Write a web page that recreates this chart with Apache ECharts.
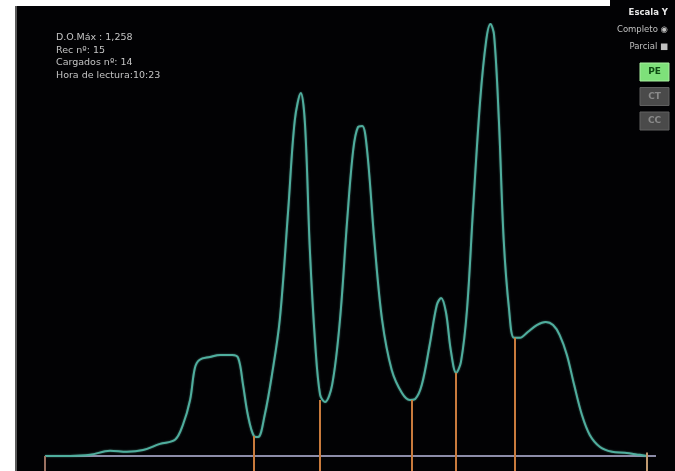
<!DOCTYPE html>
<html>
<head>
<meta charset="utf-8">
<script src="https://cdn.jsdelivr.net/npm/echarts@6/dist/echarts.min.js"></script>
<style>
  html, body { margin: 0; padding: 0; background: #020204; overflow: hidden; }
  #chart { width: 675px; height: 471px; }
</style>
</head>
<body>
<div id="chart"></div>
<script>
// Densitometer scan: position along the run (0–100) and optical density
const positions = [0, 4.2, 7.5, 10.8, 13.6, 16.3, 19.1, 21.6, 22.9, 24.1, 24.9, 25.7, 27.4, 29.1, 31.1, 32.1, 32.9, 33.7, 34.7, 35.4, 36.5, 37.7, 39.0, 40.4, 41.5, 42.5, 43.2, 44.0, 44.9, 45.7, 46.5, 47.7, 49.0, 50.2, 51.2, 52.0, 52.7, 53.5, 54.7, 56.0, 57.6, 59.3, 60.6, 61.5, 62.6, 63.9, 65.1, 65.8, 66.6, 67.4, 68.3, 69.1, 70.1, 71.1, 72.3, 73.3, 74.0, 74.6, 75.4, 76.2, 77.1, 77.9, 78.9, 80.2, 81.7, 83.2, 84.4, 85.5, 86.7, 87.9, 89.2, 90.5, 92.2, 94.2, 96.3, 98.8, 100];
const density = [0, 0, 0.003, 0.015, 0.012, 0.017, 0.035, 0.047, 0.090, 0.163, 0.256, 0.280, 0.288, 0.294, 0.294, 0.285, 0.207, 0.119, 0.058, 0.055, 0.119, 0.236, 0.396, 0.716, 0.978, 1.057, 0.964, 0.600, 0.323, 0.178, 0.157, 0.207, 0.396, 0.687, 0.891, 0.958, 0.961, 0.891, 0.629, 0.396, 0.250, 0.183, 0.163, 0.166, 0.207, 0.323, 0.440, 0.460, 0.419, 0.309, 0.242, 0.274, 0.425, 0.716, 1.037, 1.211, 1.258, 1.226, 0.978, 0.629, 0.425, 0.344, 0.344, 0.361, 0.381, 0.390, 0.381, 0.352, 0.294, 0.207, 0.119, 0.061, 0.026, 0.012, 0.009, 0.003, 0];

// Fraction cut positions and the density where each cut meets the curve
const cutPositions = [34.7, 45.7, 60.9, 68.3, 78.1];
const cutDensity = [0.058, 0.163, 0.163, 0.242, 0.344];

// Scan limits (start / end markers)
const scanStart = 0;
const scanEnd = 100;
const baselineEnd = 101.5;

const infoLines = ['D.O.Máx : 1,258', 'Rec nº: 15', 'Cargados nº: 14', 'Hora de lectura:10:23'];
const scaleLabels = ['Escala Y', 'Completo', 'Parcial'];
const modeButtons = ['PE', 'CT', 'CC'];

const yMin = -0.044;
const yMax = 1.258;

const chart = echarts.init(document.getElementById('chart'), null, { renderer: 'canvas' });

const curveData = positions.map((p, i) => [p, density[i]]);
const cutLines = cutPositions.map((p, i) => [{ coord: [p, yMin] }, { coord: [p, cutDensity[i]] }]);

const graphics = [
  // white margins around the dark panel, and the panel's left edge
  { type: 'rect', shape: { x: 0, y: 0, width: 15, height: 471 }, style: { fill: '#ffffff' }, z: 0 },
  { type: 'rect', shape: { x: 0, y: 0, width: 610, height: 6 }, style: { fill: '#ffffff' }, z: 0 },
  { type: 'rect', shape: { x: 15, y: 6, width: 2, height: 465 }, style: { fill: '#5a5a5a' }, z: 0 }
];

infoLines.forEach((t, i) => {
  graphics.push({
    type: 'text', x: 56, y: 38 + i * 12.5,
    style: { text: t, fill: '#c4c4c4', font: '9.5px "DejaVu Sans"', textAlign: 'left', textVerticalAlign: 'middle' }
  });
});

scaleLabels.forEach((t, i) => {
  const mark = i === 0 ? '' : (i === 1 ? ' ◉' : ' ■');
  graphics.push({
    type: 'text', x: 668, y: 13 + i * 17,
    style: { text: t + mark, fill: i === 0 ? '#e8e8e8' : '#c0c0c0', font: (i === 0 ? 'bold ' : '') + '8.5px "DejaVu Sans"', textAlign: 'right', textVerticalAlign: 'middle' }
  });
});

modeButtons.forEach((t, i) => {
  const active = i === 0;
  const top = 63 + i * 24.5;
  graphics.push({
    type: 'rect', shape: { x: 640, y: top, width: 29, height: 18 },
    style: { fill: active ? '#7ee07a' : '#4a4a4a', stroke: active ? '#a8f0a0' : '#606060', lineWidth: 1 }
  });
  graphics.push({
    type: 'text', x: 654.5, y: top + 9,
    style: { text: t, fill: active ? '#0d4a12' : '#8a8a8a', font: 'bold 9px "DejaVu Sans"', textAlign: 'center', textVerticalAlign: 'middle' }
  });
});

chart.setOption({
  animation: false,
  backgroundColor: '#020204',
  grid: { left: 45, right: 16, top: 24, bottom: 0, containLabel: false },
  xAxis: {
    type: 'value', min: 0, max: 102,
    axisLine: { show: false }, axisTick: { show: false }, axisLabel: { show: false }, splitLine: { show: false }
  },
  yAxis: {
    type: 'value', min: yMin, max: yMax,
    axisLine: { show: false }, axisTick: { show: false }, axisLabel: { show: false }, splitLine: { show: false }
  },
  graphic: graphics,
  series: [
    {
      // baseline and end markers
      type: 'line',
      data: [[scanStart, 0], [baselineEnd, 0]],
      symbol: 'none',
      lineStyle: { color: '#8c8ca8', width: 2 },
      z: 1,
      markLine: {
        symbol: 'none', silent: true, label: { show: false },
        lineStyle: { type: 'solid', width: 2 },
        data: [
          [{ coord: [scanStart, yMin], lineStyle: { color: '#9a7060' } }, { coord: [scanStart, 0] }],
          [{ coord: [scanEnd, yMin], lineStyle: { color: '#c09a70' } }, { coord: [scanEnd, 0.01] }]
        ]
      }
    },
    {
      // fraction cuts
      type: 'line',
      data: [],
      symbol: 'none',
      z: 2,
      markLine: {
        symbol: 'none', silent: true, label: { show: false },
        lineStyle: { type: 'solid', color: '#c87a3c', width: 2 },
        data: cutLines
      }
    },
    {
      // density curve
      type: 'line',
      data: curveData,
      smooth: 0.35,
      symbol: 'none',
      lineStyle: { color: '#4fae9e', width: 2, shadowColor: 'rgba(120,210,190,0.5)', shadowBlur: 2 },
      z: 3
    }
  ]
});
</script>
</body>
</html>
